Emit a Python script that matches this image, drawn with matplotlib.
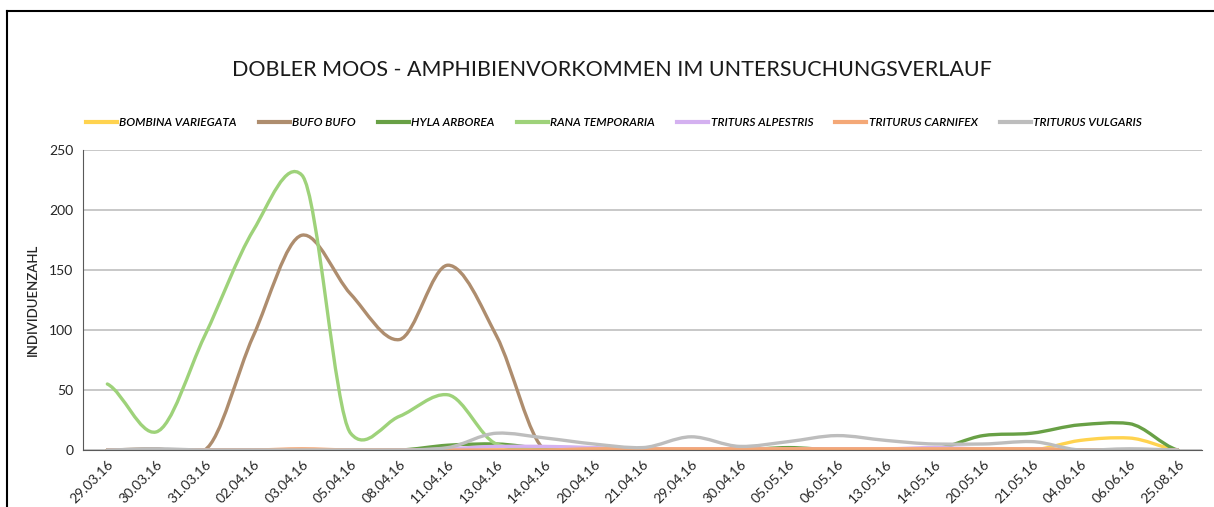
import matplotlib
matplotlib.use("Agg")
import matplotlib.pyplot as plt
from matplotlib.path import Path
from matplotlib.patches import PathPatch
from matplotlib.lines import Line2D
import numpy as np

dates = ["29.03.16", "30.03.16", "31.03.16", "02.04.16", "03.04.16", "05.04.16",
         "08.04.16", "11.04.16", "13.04.16", "14.04.16", "20.04.16", "21.04.16",
         "29.04.16", "30.04.16", "05.05.16", "06.05.16", "13.05.16", "14.05.16",
         "20.05.16", "21.05.16", "04.06.16", "06.06.16", "25.08.16"]

bombina_variegata = [0, 0, 0, 0, 0, 0, 0, 0, 0, 0, 0, 0, 0, 0, 0, 0, 0, 0, 0, 0, 8, 10, 0]
bufo_bufo = [0, 1, 0, 95, 179, 130, 92, 154, 95, 0, 0, 0, 0, 0, 0, 0, 0, 0, 0, 0, 0, 0, 0]
hyla_arborea = [0, 0, 0, 0, 0, 0, 0, 4, 5, 1, 0, 0, 0, 0, 2, 0, 0, 1, 12, 14, 21, 22, 0]
rana_temporaria = [55, 15, 95, 183, 229, 14, 28, 46, 5, 0, 0, 0, 0, 0, 0, 0, 0, 0, 0, 0, 0, 0, 0]
triturs_alpestris = [0, 0, 0, 0, 0, 0, 0, 1, 3, 3, 2, 1, 1, 1, 1, 1, 1, 2, 1, 1, 0, 0, 0]
triturus_carnifex = [0, 0, 0, 0, 1, 0, 0, 0, 0, 0, 1, 1, 1, 1, 1, 1, 1, 1, 1, 1, 0, 0, 0]
triturus_vulgaris = [0, 1, 0, 0, 0, 0, 0, 2, 14, 10, 5, 2, 11, 3, 7, 12, 8, 5, 5, 7, 0, 1, 0]

series = [
    ("BOMBINA VARIEGATA", bombina_variegata, "#FFD34F"),
    ("BUFO BUFO", bufo_bufo, "#AE8D6E"),
    ("HYLA ARBOREA", hyla_arborea, "#68A045"),
    ("RANA TEMPORARIA", rana_temporaria, "#9ED27A"),
    ("TRITURS ALPESTRIS", triturs_alpestris, "#D4B1F0"),
    ("TRITURUS CARNIFEX", triturus_carnifex, "#F4A877"),
    ("TRITURUS VULGARIS", triturus_vulgaris, "#BDBDBD"),
]

plt.rcParams['font.family'] = ['Lato', 'DejaVu Sans']

W, H = 1214, 507
fig = plt.figure(figsize=(W / 100, H / 100), dpi=100)
ax = fig.add_axes([83 / W, 1 - 450 / H, (1202 - 83) / W, 300 / H])
ax.set_xlim(-0.5, len(dates) - 0.5)
ax.set_ylim(0, 250)

def smooth_path(xs, ys):
    # smoothed line: cubic Bezier with limited tangents (softened at extrema)
    xs = np.asarray(xs, float)
    ys = np.asarray(ys, float)
    n = len(ys)
    d = np.diff(ys) / np.diff(xs)
    m = np.zeros(n)
    for i in range(n):
        if i == 0:
            m[i] = d[0] * 0.5
        elif i == n - 1:
            m[i] = d[-1] * 0.5
        else:
            mi = 0.5 * (d[i - 1] + d[i])
            if d[i - 1] * d[i] <= 0:
                m[i] = 0.5 * mi
            else:
                lim = 3.0 * min(abs(d[i - 1]), abs(d[i]))
                m[i] = np.sign(mi) * min(abs(mi), lim)
    verts = [(xs[0], ys[0])]
    codes = [Path.MOVETO]
    for i in range(n - 1):
        h = xs[i + 1] - xs[i]
        verts += [(xs[i] + h / 3, ys[i] + m[i] * h / 3),
                  (xs[i + 1] - h / 3, ys[i + 1] - m[i + 1] * h / 3),
                  (xs[i + 1], ys[i + 1])]
        codes += [Path.CURVE4] * 3
    return Path(verts, codes)

x = np.arange(len(dates))
for name, vals, col in series:
    patch = PathPatch(smooth_path(x, vals), facecolor="none", edgecolor=col,
                      lw=2.4, capstyle="round", joinstyle="round")
    ax.add_patch(patch)

ax.set_yticks(range(0, 251, 50))
ax.yaxis.grid(True, color="#BFBFBF", lw=1.2)
ax.set_axisbelow(True)
for s in ["top", "right"]:
    ax.spines[s].set_visible(False)
ax.spines["left"].set_color("#595959")
ax.spines["left"].set_linewidth(0.8)
ax.spines["bottom"].set_color("#595959")
ax.spines["bottom"].set_linewidth(0.8)
ax.tick_params(axis="both", length=0, labelsize=10, colors="#262626")
ax.tick_params(axis="y", pad=7)
ax.set_xticks(x)
ax.set_xticklabels(dates, rotation=45, ha="right", va="top", rotation_mode="anchor")
ax.tick_params(axis="x", pad=6)
ax.set_ylabel("INDIVIDUENZAHL", fontsize=9.5, color="#262626", labelpad=7,
              fontweight="semibold")

fig.text(612 / W, 1 - 70 / H, "DOBLER MOOS - AMPHIBIENVORKOMMEN IM UNTERSUCHUNGSVERLAUF",
         ha="center", va="center", fontsize=15.5, color="#1a1a1a")

handles = [Line2D([0], [0], color=c, lw=3) for _, _, c in series]
labels = [n for n, _, _ in series]
leg = fig.legend(handles, labels, loc="center", bbox_to_anchor=(614 / W, 1 - 123 / H),
                 ncol=7, frameon=False, handlelength=2.6, handletextpad=0.2,
                 columnspacing=1.85,
                 prop={"style": "italic", "size": 8.6, "weight": "semibold"})

# outer border
fig.add_artist(Line2D([7 / W, 1], [1 - 11 / H, 1 - 11 / H], color="black", lw=1.5))
fig.add_artist(Line2D([7 / W, 7 / W], [0, 1 - 11 / H], color="black", lw=1.5))

fig.savefig("out.png", dpi=100)
